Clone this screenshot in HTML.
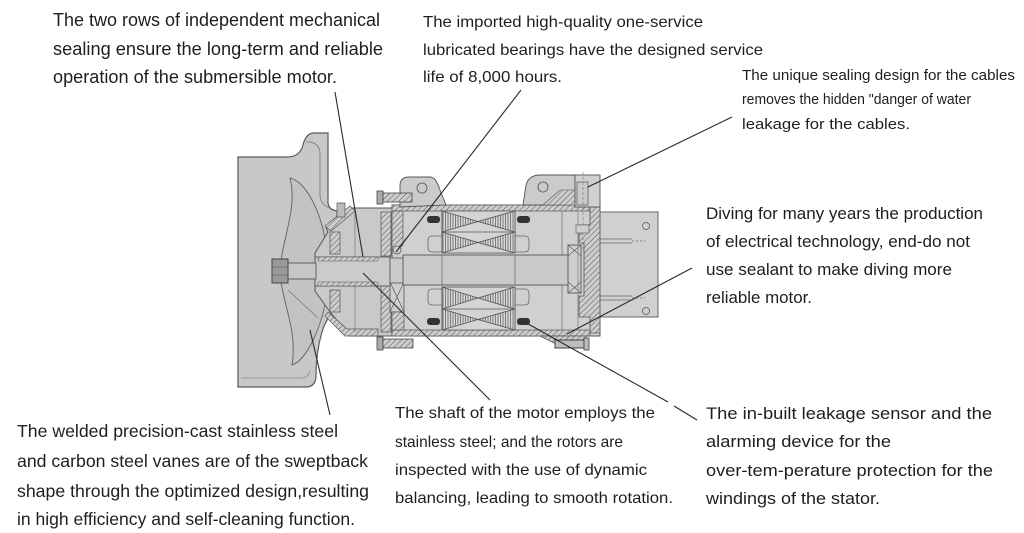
<!DOCTYPE html>
<html><head><meta charset="utf-8"><style>
html,body{margin:0;padding:0;background:#fff;}
svg{display:block;}
text{font-family:"Liberation Sans",Arial,sans-serif;fill:#1e1e1e;}
</style></head><body>
<svg width="1024" height="533" viewBox="0 0 1024 533" xmlns="http://www.w3.org/2000/svg">
<defs>
<pattern id="h" width="4" height="4" patternUnits="userSpaceOnUse" patternTransform="rotate(45)">
<rect width="4" height="4" fill="#cdcdcd"/><line x1="0" y1="0" x2="0" y2="4" stroke="#555" stroke-width="1"/></pattern>
<pattern id="v" width="2.5" height="4" patternUnits="userSpaceOnUse">
<rect width="2.5" height="4" fill="#d6d6d6"/><line x1="0.5" y1="0" x2="0.5" y2="4" stroke="#666" stroke-width="0.8"/></pattern>
</defs>

<!-- casing -->
<path d="M238,157 L287,157 Q300,157 303,145 Q306,133 314,133 L328,133 L328,203 Q329,210 337,211 L337,308 Q326,318 322,332 Q316,352 316,375 Q316,387 306,387 L238,387 Z" fill="#c8c8c8" stroke="#5a5a5a" stroke-width="1.2"/>
<path d="M306,142 Q318,141 320,152 L320,196 Q321,206 331,208" fill="none" stroke="#777" stroke-width="0.8"/>
<path d="M241,378 L300,378 Q309,378 310,370" fill="none" stroke="#888" stroke-width="0.8"/>
<!-- vane -->
<path d="M290,178 C307,182 323,215 327,252 L327,292 C323,325 307,360 292,365 C298,330 281,300 280,272 C281,240 298,210 290,178 Z" fill="#c3c3c3" stroke="#6a6a6a" stroke-width="1"/>
<line x1="288" y1="290" x2="318" y2="318" stroke="#777" stroke-width="0.8"/>

<!-- seal housing -->
<path d="M315,253 L328,232 L326,228 L350,208 L392,208 L392,336 L350,336 L345,330 L330,312 L315,291 Z" fill="#c9c9c9" stroke="#555" stroke-width="1"/>
<polygon points="325,226 350,206 355,211 331,231" fill="url(#h)" stroke="#555" stroke-width="0.7"/>
<polygon points="328,312 347,329 378,329 378,336 345,336 325,316" fill="url(#h)" stroke="#555" stroke-width="0.7"/>
<rect x="381" y="212" width="10" height="44" fill="url(#h)" stroke="#555" stroke-width="0.7"/>
<rect x="381" y="286" width="10" height="46" fill="url(#h)" stroke="#555" stroke-width="0.7"/>
<rect x="330" y="232" width="10" height="22" fill="url(#h)" stroke="#555" stroke-width="0.7"/>
<rect x="330" y="290" width="10" height="22" fill="url(#h)" stroke="#555" stroke-width="0.7"/>
<rect x="337" y="203" width="8" height="14" fill="#bbb" stroke="#555" stroke-width="0.7"/>
<line x1="355" y1="212" x2="355" y2="332" stroke="#777" stroke-width="0.7"/>

<!-- motor housing -->
<rect x="392" y="205" width="208" height="131" fill="#d0d0d0" stroke="#555" stroke-width="1"/>
<rect x="392" y="205" width="198" height="6" fill="url(#h)" stroke="#555" stroke-width="0.7"/>
<rect x="392" y="330" width="198" height="6" fill="url(#h)" stroke="#555" stroke-width="0.7"/>
<polygon points="392,211 403,211 403,245 397,250 392,250" fill="url(#h)" stroke="#555" stroke-width="0.7"/>
<rect x="390" y="282" width="14" height="30" fill="#cfcfcf" stroke="#555" stroke-width="0.8"/>
<path d="M390,282 L404,312 M404,282 L390,312" stroke="#555" stroke-width="0.7"/>
<polygon points="392,312 404,312 404,330 392,330" fill="url(#h)" stroke="#555" stroke-width="0.7"/>
<circle cx="397" cy="250" r="4" fill="#d0d0d0" stroke="#555" stroke-width="0.8"/>
<line x1="562" y1="211" x2="562" y2="330" stroke="#777" stroke-width="0.8"/>

<!-- stator -->
<g stroke="#555" stroke-width="0.8">
<rect x="442" y="211" width="73" height="42" fill="#d4d4d4"/>
<rect x="442" y="287" width="73" height="43" fill="#d4d4d4"/>
<polygon points="442,211 478,221.5 442,232" fill="url(#v)"/>
<polygon points="515,211 478,221.5 515,232" fill="url(#v)"/>
<polygon points="442,232 478,242.5 442,253" fill="url(#v)"/>
<polygon points="515,232 478,242.5 515,253" fill="url(#v)"/>
<polygon points="442,287 478,298 442,309" fill="url(#v)"/>
<polygon points="515,287 478,298 515,309" fill="url(#v)"/>
<polygon points="442,309 478,319.5 442,330" fill="url(#v)"/>
<polygon points="515,309 478,319.5 515,330" fill="url(#v)"/>
<line x1="442" y1="232" x2="515" y2="232"/><line x1="442" y1="309" x2="515" y2="309"/>
</g>
<g fill="#333">
<rect x="427" y="216" width="13" height="7" rx="3"/><rect x="517" y="216" width="13" height="7" rx="3"/>
<rect x="427" y="318" width="13" height="7" rx="3"/><rect x="517" y="318" width="13" height="7" rx="3"/>
</g>
<g fill="none" stroke="#666" stroke-width="0.8">
<path d="M442,236 L432,236 Q428,236 428,241 L428,247 Q428,252 432,252 L442,252"/>
<path d="M515,236 L525,236 Q529,236 529,241 L529,247 Q529,252 525,252 L515,252"/>
<path d="M442,289 L432,289 Q428,289 428,294 L428,300 Q428,305 432,305 L442,305"/>
<path d="M515,289 L525,289 Q529,289 529,294 L529,300 Q529,305 525,305 L515,305"/>
</g>

<!-- shaft -->
<rect x="403" y="255" width="167" height="30" fill="#cacaca" stroke="#555" stroke-width="0.9"/>
<line x1="442" y1="255" x2="442" y2="285" stroke="#666" stroke-width="0.7"/>
<line x1="515" y1="255" x2="515" y2="285" stroke="#666" stroke-width="0.7"/>
<rect x="315" y="257" width="75" height="29" fill="#cbcbcb" stroke="#555" stroke-width="0.9"/>
<rect x="318" y="257" width="60" height="4" fill="url(#h)" stroke="#555" stroke-width="0.5"/>
<rect x="318" y="282" width="60" height="4" fill="url(#h)" stroke="#555" stroke-width="0.5"/>
<rect x="390" y="258" width="13" height="25" fill="#cacaca" stroke="#555" stroke-width="0.8"/>
<rect x="288" y="263" width="28" height="16" fill="#c6c6c6" stroke="#555" stroke-width="0.9"/>
<rect x="272" y="259" width="16" height="24" fill="#9a9a9a" stroke="#444" stroke-width="1"/>
<line x1="272" y1="267" x2="288" y2="267" stroke="#555" stroke-width="0.6"/>
<line x1="272" y1="275" x2="288" y2="275" stroke="#555" stroke-width="0.6"/>

<!-- right end cover & bearing -->
<path d="M590,207 L600,207 L600,333 L590,333 L590,317 L579,317 L579,296 L584,296 L584,243 L579,243 L579,225 L590,225 Z" fill="url(#h)" stroke="#555" stroke-width="0.8"/>
<rect x="568" y="245" width="13" height="48" fill="#cfcfcf" stroke="#555" stroke-width="0.9"/>
<path d="M568,245 L581,256 M581,245 L568,256 M568,282 L581,293 M581,282 L568,293" stroke="#555" stroke-width="0.6"/>
<line x1="578" y1="211" x2="578" y2="330" stroke="#777" stroke-width="0.7"/>

<!-- right box -->
<rect x="600" y="212" width="58" height="105" fill="#d0d0d0" stroke="#666" stroke-width="1"/>
<circle cx="646" cy="226" r="3.5" fill="none" stroke="#555" stroke-width="0.8"/>
<circle cx="646" cy="311" r="3.5" fill="none" stroke="#555" stroke-width="0.8"/>
<g stroke="#666" stroke-width="0.7">
<line x1="600" y1="239" x2="632" y2="239"/><line x1="600" y1="243" x2="632" y2="243"/>
<line x1="600" y1="296" x2="632" y2="296"/><line x1="600" y1="300" x2="632" y2="300"/>
<line x1="632" y1="241" x2="645" y2="241" stroke-dasharray="2,2"/><line x1="632" y1="298" x2="645" y2="298" stroke-dasharray="2,2"/>
</g>

<!-- lugs -->
<path d="M400,207 L400,186 Q400,177 409,177 L430,177 Q436,177 440,190 L446,205 Z" fill="#cbcbcb" stroke="#555" stroke-width="0.9"/>
<circle cx="422" cy="188" r="5" fill="none" stroke="#555" stroke-width="0.8"/>
<path d="M523,205 L526,185 Q529,175 540,175 L575,175 L575,205 Z" fill="#cbcbcb" stroke="#555" stroke-width="0.9"/>
<circle cx="543" cy="187" r="5" fill="none" stroke="#555" stroke-width="0.8"/>
<polygon points="543,205 560,190 575,190 575,205" fill="url(#h)" stroke="#555" stroke-width="0.6"/>
<rect x="575" y="175" width="25" height="32" fill="#d0d0d0" stroke="#555" stroke-width="0.9"/>
<rect x="577" y="182" width="11" height="23" fill="#cacaca" stroke="#555" stroke-width="0.7"/>
<line x1="583" y1="172" x2="583" y2="250" stroke="#777" stroke-width="0.6" stroke-dasharray="3,2"/>
<rect x="576" y="225" width="13" height="8" fill="#cfcfcf" stroke="#555" stroke-width="0.6"/>

<!-- bolts -->
<rect x="377" y="191" width="6" height="13" fill="#aaa" stroke="#444" stroke-width="0.8"/>
<rect x="383" y="193" width="29" height="9" fill="url(#h)" stroke="#444" stroke-width="0.8"/>
<rect x="377" y="337" width="6" height="13" fill="#aaa" stroke="#444" stroke-width="0.8"/>
<rect x="383" y="339" width="30" height="9" fill="url(#h)" stroke="#444" stroke-width="0.8"/>
<polygon points="540,336 586,336 586,344 556,344" fill="url(#h)" stroke="#555" stroke-width="0.7"/>
<rect x="555" y="340" width="29" height="8" fill="#bdbdbd" stroke="#333" stroke-width="0.9"/>
<rect x="584" y="338" width="5" height="12" fill="#bbb" stroke="#444" stroke-width="0.8"/>

<!-- leader lines -->
<g stroke="#2a2a2a" stroke-width="1.1" fill="none">
<line x1="335" y1="92" x2="363" y2="257"/>
<line x1="521" y1="90" x2="396" y2="252"/>
<line x1="732" y1="117" x2="588" y2="187"/>
<line x1="692" y1="268" x2="567" y2="334"/>
<line x1="521" y1="320" x2="668" y2="402"/>
<line x1="674" y1="406" x2="697" y2="420"/>
<line x1="363" y1="273" x2="490" y2="400"/>
<line x1="310" y1="330" x2="330" y2="415"/>
</g>

<!-- texts -->
<g font-size="18">
<text x="53" y="26" textLength="327" lengthAdjust="spacingAndGlyphs">The two rows of independent mechanical</text>
<text x="53" y="55" textLength="330" lengthAdjust="spacingAndGlyphs">sealing ensure the long-term and reliable</text>
<text x="53" y="83" textLength="284" lengthAdjust="spacingAndGlyphs">operation of the submersible motor.</text>
</g>
<g font-size="16">
<text x="423" y="27" textLength="280" lengthAdjust="spacingAndGlyphs">The imported high-quality one-service</text>
<text x="423" y="55" textLength="340" lengthAdjust="spacingAndGlyphs">lubricated bearings have the designed service</text>
<text x="423" y="82" textLength="139" lengthAdjust="spacingAndGlyphs">life of 8,000 hours.</text>
</g>
<g font-size="14.5">
<text x="742" y="80" textLength="273" lengthAdjust="spacingAndGlyphs">The unique sealing design for the cables</text>
<text x="742" y="104" textLength="229" lengthAdjust="spacingAndGlyphs">removes the hidden "danger of water</text>
<text x="742" y="129" textLength="168" lengthAdjust="spacingAndGlyphs">leakage for the cables.</text>
</g>
<g font-size="16.5">
<text x="706" y="219" textLength="277" lengthAdjust="spacingAndGlyphs">Diving for many years the production</text>
<text x="706" y="247" textLength="264" lengthAdjust="spacingAndGlyphs">of electrical technology, end-do not</text>
<text x="706" y="275" textLength="246" lengthAdjust="spacingAndGlyphs">use sealant to make diving more</text>
<text x="706" y="303" textLength="106" lengthAdjust="spacingAndGlyphs">reliable motor.</text>
</g>
<g font-size="17">
<text x="706" y="419" textLength="286" lengthAdjust="spacingAndGlyphs">The in-built leakage sensor and the</text>
<text x="706" y="447" textLength="185" lengthAdjust="spacingAndGlyphs">alarming device for the</text>
<text x="706" y="476" textLength="287" lengthAdjust="spacingAndGlyphs">over-tem-perature protection for the</text>
<text x="706" y="504" textLength="174" lengthAdjust="spacingAndGlyphs">windings of the stator.</text>
</g>
<g font-size="16">
<text x="395" y="418" textLength="260" lengthAdjust="spacingAndGlyphs">The shaft of the motor employs the</text>
<text x="395" y="447" textLength="228" lengthAdjust="spacingAndGlyphs">stainless steel; and the rotors are</text>
<text x="395" y="475" textLength="252" lengthAdjust="spacingAndGlyphs">inspected with the use of dynamic</text>
<text x="395" y="503" textLength="278" lengthAdjust="spacingAndGlyphs">balancing, leading to smooth rotation.</text>
</g>
<g font-size="17.5">
<text x="17" y="437" textLength="321" lengthAdjust="spacingAndGlyphs">The welded precision-cast stainless steel</text>
<text x="17" y="467" textLength="351" lengthAdjust="spacingAndGlyphs">and carbon steel vanes are of the sweptback</text>
<text x="17" y="497" textLength="352" lengthAdjust="spacingAndGlyphs">shape through the optimized design,resulting</text>
<text x="17" y="525" textLength="338" lengthAdjust="spacingAndGlyphs">in high efficiency and self-cleaning function.</text>
</g>
</svg>
</body></html>
